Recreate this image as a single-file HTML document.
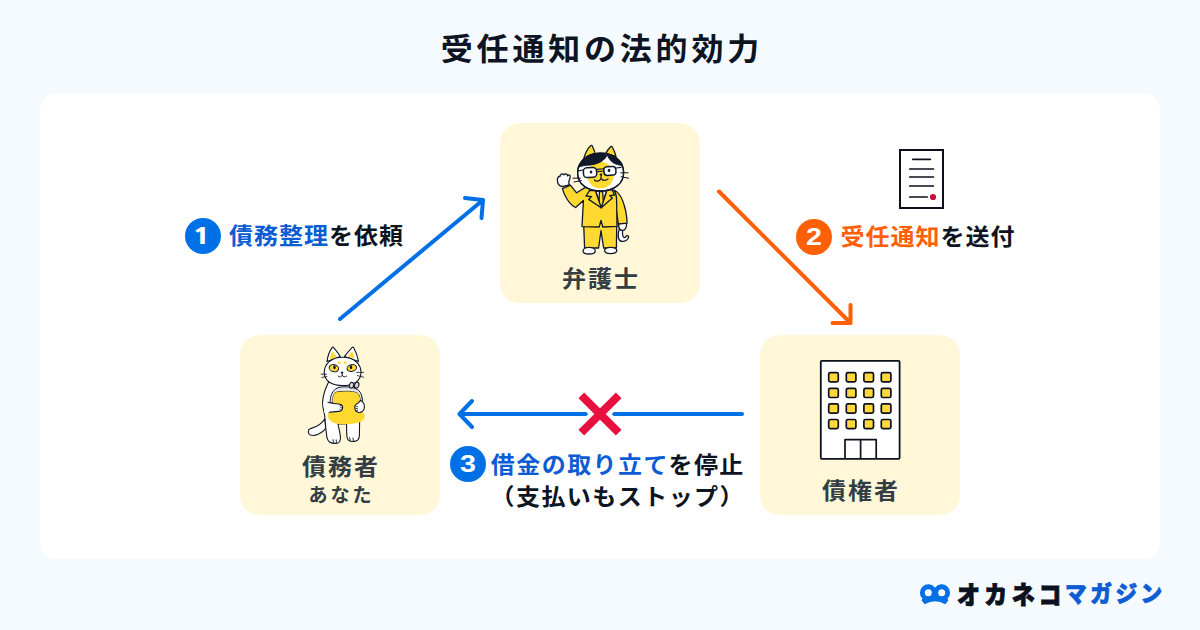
<!DOCTYPE html>
<html lang="ja">
<head>
<meta charset="utf-8">
<title>受任通知の法的効力</title>
<style>
*{margin:0;padding:0;box-sizing:border-box}
html,body{width:1200px;height:630px;overflow:hidden;background:#f5faff}
body{position:relative;font-family:"Liberation Sans","Noto Sans CJK JP",sans-serif;font-weight:700;color:#0d1422}
.abs{position:absolute;white-space:nowrap;line-height:1}
#title{left:0;width:1200px;top:32.3px;text-align:center;font-size:32px;letter-spacing:3.8px;text-indent:3.8px;line-height:34px;height:34px;transform:scaleY(.975);transform-origin:50% 93%}
#card{position:absolute;left:40px;top:94px;width:1120px;height:465px;border-radius:16px;background:#fff}
.box{position:absolute;width:200px;height:180px;border-radius:20px;background:#fff7d8}
.box .name{position:absolute;left:0;width:200px;text-align:center;font-size:24px;letter-spacing:2px;text-indent:2px;color:#333d44;line-height:24px;white-space:nowrap;transform:scaleY(.935);transform-origin:50% 95%}
.box .sub{position:absolute;left:0;width:200px;text-align:center;font-size:19px;letter-spacing:3px;text-indent:3px;color:#333d44;line-height:20px;white-space:nowrap}
.num{position:absolute;width:36px;height:36px;border-radius:50%;color:#fff;font-size:24px;line-height:36px;text-align:center;font-family:"Liberation Sans",sans-serif;font-weight:700}
.num{font-size:24.5px}
.num span{display:block;transform:scaleX(1.17)}
.num .one{font-family:"NanumGothic","Liberation Sans",sans-serif;font-weight:800;font-size:21.5px;transform:translate(-1.2px,1px) scaleX(1.5)}
.lbl{font-size:24px;letter-spacing:1px;line-height:24px;transform:scaleY(.955);transform-origin:0 95%}
.l3{letter-spacing:1.45px}
.blue{color:#0c5cd4}
.orange{color:#ff5f05}
svg{position:absolute;left:0;top:0;overflow:visible}
</style>
</head>
<body>
<div id="title" class="abs">受任通知の法的効力</div>
<div id="card"></div>

<div class="box" style="left:500px;top:123px"><div class="name" style="top:144px">弁護士</div></div>
<div class="box" style="left:240px;top:335px"><div class="name" style="top:119.6px">債務者</div><div class="sub" style="top:151.2px">あなた</div></div>
<div class="box" style="left:760px;top:335px"><div class="name" style="top:144px">債権者</div></div>

<svg id="art" width="1200" height="630" viewBox="0 0 1200 630">
  <g fill="none" stroke-width="4" stroke-linecap="round" stroke-linejoin="round">
    <g stroke="#0070e6">
      <path d="M340 319L483 200M465 198L483 200L481.5 218"/>
      <path d="M742 414H459.5M472 401L459.5 414L472 427"/>
    </g>
    <g stroke="#ff5f05">
      <path d="M719 191.5L850.5 323M850.5 305V323H832.5"/>
    </g>
  </g>
  <g fill="none" stroke-linecap="butt">
    <path d="M581.3 395.3L618.7 432.7M618.7 395.3L581.3 432.7" stroke="#fff" stroke-width="16.6"/>
    <path d="M581.3 395.3L618.7 432.7M618.7 395.3L581.3 432.7" stroke="#e8103f" stroke-width="8"/>
  </g>
<!--CAT1-->
  <!-- lawyer cat -->
  <g id="lawyer" stroke="#10182a" stroke-width="1.3" stroke-linejoin="round" stroke-linecap="round" fill="none">
    <!-- tail -->
    <path d="M619.4 229C618.4 231.6 617.8 234.6 618.2 237C618.8 240 620.6 241.6 623.2 241.4C626.2 241.2 628.4 239 628.6 236.6C628.6 235.4 626.8 235.2 626.2 236.2C625.6 237.4 624.4 237.8 623.6 237.2C622.6 236.2 622.4 233.4 622.6 230.6Z" fill="#fff"/>
    <!-- legs / pants -->
    <path d="M583.6 222L584.6 248L598.6 248L601 230.6L603.6 248L616.4 248L616.8 222Z" fill="#ffd92f"/>
    <!-- feet -->
    <path d="M583 251C583 248.6 586 247.3 589 247.3C592 247.3 595.3 248.6 595.3 251C595.3 253.2 592 254 589 254C586 254 583 253.2 583 251Z" fill="#fff"/>
    <path d="M604.6 250.6C604.6 248.4 607.6 247.3 610.6 247.3C613.6 247.3 616.8 248.4 616.8 250.6C616.8 252.8 613.6 253.6 610.6 253.6C607.6 253.6 604.6 252.8 604.6 250.6Z" fill="#fff"/>
    <!-- right hand (viewer right) -->
    <path d="M618.6 223.5C618.4 227 619.6 230.2 622.4 230.4C625.4 230.6 626.8 227 626.6 222.8Z" fill="#fff"/>
    <!-- right arm -->
    <path d="M615 190.5C620 193 623 200 625 208C626.4 214 627.2 219 627 223.2L618.4 224L616 208Z" fill="#ffd92f"/>
    <!-- jacket body with raised arm -->
    <path d="M585.4 187.4L576.6 192.8L570.4 185.2L562.4 188.6C564.4 196 569.4 204.6 575.6 207.5L583.4 200.5L582 226.6L599.2 227L601 220.5L602.8 227L617 226.4L616.6 200C616.4 195 615.6 192 614 190.2L600 188Z" fill="#ffd92f"/>
    <!-- hand raised -->
    <path d="M563 186.4C560.4 187 557.6 184.6 557.4 180.6C557.2 177.6 558.6 176 560 176.6C560 174.2 562.4 173 563.8 174.8C565 173.2 567.2 173.6 567.6 175.8C568.6 174.4 570.4 174.8 570.2 176.8C570 179 568.8 180.6 568.8 182.4C568.8 183.6 569.2 184.4 569.4 185Z" fill="#fff"/>
    <!-- shirt -->
    <path d="M595.5 191L601 205.5L607 190.5Z" fill="#fff"/>
    <!-- tie -->
    <path d="M599.4 191.6L602.6 191.4L603.4 203L601.2 207.6L599 203Z" fill="#ffd92f"/>
    <!-- lapels -->
    <path d="M589.6 190.4L586 196L591.6 196.6L588.6 199.4L601.2 207.8L595.4 190.8Z" fill="#ffd92f"/>
    <path d="M612 189.6L614.6 195L609.6 195.6L612.4 198L601.2 207.8L607 190.4Z" fill="#ffd92f"/>
    <!-- ears -->
    <path d="M583.4 160C584.6 155 587.6 148.6 590.6 145.8C591.2 145.2 592 145.4 592.4 146.2C593.6 148.6 594.8 151.6 595.4 154.6Z" fill="#ffd92f"/>
    <path d="M605.8 153.6C607 151 609 148.4 610.6 146.8C611.2 146.2 612 146.4 612.4 147.2C613.8 149.8 615.2 153 616 156.4Z" fill="#ffd92f"/>
    <!-- head -->
    <path id="lhead" d="M577.6 173.4C577.2 163 586 153.4 600 153.2C613 153 623 160.4 623.6 171.6C624.2 183.6 614 191 600.6 191C587.4 191 578 184.4 577.6 173.4Z" fill="#fff"/>
    <!-- yellow face patch -->
    <circle cx="600.5" cy="175" r="13.3" fill="#ffd92f" stroke="none"/>
    <!-- hair -->
    <path d="M579 167C580 162 583.4 158 588 155.6C593.6 152.8 601 152.6 607.2 155C605 160 600 163 594 164.4C588.4 165.6 583 165 579 167Z" fill="#10182a" stroke-width="0.8"/>
    <path d="M607.2 155C612.6 155.2 617.2 157.6 619.8 160.8C621 162.2 622 164 622.2 165.4C619 165.4 615.6 164.4 613 162.6C610.4 160.8 608.4 158 607.2 155Z" fill="#10182a" stroke-width="0.8"/>
    <!-- head outline again -->
    <path d="M577.6 173.4C577.2 163 586 153.4 600 153.2C613 153 623 160.4 623.6 171.6C624.2 183.6 614 191 600.6 191C587.4 191 578 184.4 577.6 173.4Z"/>
    <!-- glasses -->
    <path d="M583 170L578.4 170.8M616.4 168L621 167.4" stroke-width="1.2"/>
    <rect x="583.4" y="167.6" width="13.2" height="9.8" rx="3.6" fill="#fff" stroke-width="1.5" transform="rotate(-4 590 172)"/>
    <rect x="603.9" y="166.6" width="12" height="8.7" rx="3.3" fill="#fff" stroke-width="1.5" transform="rotate(-4 610 171)"/>
    <path d="M597 169.4L603.8 168.8M597.2 171.6L603.8 171" stroke-width="1.1"/>
    <!-- eyes -->
    <ellipse cx="591" cy="172" rx="1.3" ry="1.6" fill="#10182a" stroke="none"/>
    <ellipse cx="609" cy="170.4" rx="1.3" ry="1.6" fill="#10182a" stroke="none"/>
    <!-- nose & mouth -->
    <path d="M600.2 174L602 173.8L601.2 175.4Z" fill="#10182a" stroke-width="0.8"/>
    <path d="M594.4 180C596 181.8 599.6 181.6 601 178.4C601 176.8 601.1 176 601.1 175.4M601 178.4C602.6 181 606 181 608 178.8" stroke-width="1.2"/>
    <!-- whiskers -->
    <path d="M573 178.2L580.4 178.2M574 182L581.4 180.6M620.6 172.8L628 172.8M621 176.8L628.6 178.2" stroke-width="1"/>
  </g>
<!--/CAT1-->
<!--CAT2-->
  <!-- debtor cat -->
  <g id="debtor" stroke="#10182a" stroke-width="1.1" stroke-linejoin="round" stroke-linecap="round" fill="none">
    <!-- tail -->
    <path d="M325 418.4C322 424 316 427 310.6 428.6C307.6 429.6 307.4 433.6 310.4 435C315 436.6 321.6 433.6 325.6 428.6Z" fill="#fff"/>
    <!-- body + legs -->
    <path d="M328.6 382C325.6 388 322.6 396 322.6 403C322.6 408 324 411.6 324.6 415C325.4 421 325.6 430 327 437.6C327.8 442 331.6 443.6 336 443.4C339.6 443.2 340.8 440.6 340.4 436.6C340 432 338.6 427.6 338 424L346.6 424C346.6 429 346.4 434 347.2 438C347.8 441 351 441.8 354.6 441.4C358 441 359.4 438.6 359.4 435C359.4 430 359.6 426 359.6 422L362 398L352 384Z" fill="#fff"/>
    <path d="M333.4 442.6L333 439.6M336.4 442.8L336.2 439.8M350.2 440.6L349.6 437.6M353.4 441L353 438" stroke-width="0.9"/>
    <!-- purse frame -->
    <path d="M330.2 402.6C330 397 331.6 392 335.6 389C338.6 387 341.6 386.8 345 386.8C350 386.8 355 387.6 358.4 390.2C361.2 392.6 362.2 396.4 362.4 400.6L360 402C360.2 399 360 396 358.2 394C356.6 392.2 353 391.4 346 391.4C338 391.4 335.2 392 334 394.2C333 396 332.8 399 333 402.4Z" fill="#e6e6e6" stroke-width="1"/>
    <!-- purse body -->
    <path d="M333 402.4C332.8 399 333 396 334 394.2C335.2 392 338 391.4 346 391.4C353 391.4 356.6 392.2 358.2 394C360 396 360.2 399 360 402C359.6 406 360 410 362.2 412.2C364.6 414.4 365.2 416 364.4 418C363.4 420.6 361 422 357 423C351 424.6 342 424.6 336 423.4C331.6 422.4 328.6 420 327.8 417C327.2 414.6 328 413 329.4 412C331.6 410.4 333.2 407 333 402.4Z" fill="#ffd92f" stroke="none"/>
    <!-- paws -->
    <path d="M323.2 402C327 402.6 336 403.6 340 404.2C342 404.6 342.8 406 342.6 407.8C342.4 410 341 411.2 339 411.4C335.6 411.8 329 412.4 324.4 413Z" fill="#fff" stroke="none"/>
    <path d="M328 402.2C331 403.4 336 403.6 340 404.2C342 404.6 342.8 406 342.6 407.8C342.4 410 341 411.2 339 411.4C335.6 411.8 332 412 329.2 412.2"/>
    <path d="M340 405.8L341.6 405.6M340.4 407.8L342.2 407.8M340 409.8L341.4 410.2" stroke-width="0.8"/>
    <path d="M360.6 400.4C363 401.6 364.4 404 364.4 406.6C364.4 409.6 363 411.6 360.4 412.4C357.6 413 355.2 411.2 354.8 408.4C354.4 405.8 355.6 404 358 403.2Z" fill="#fff"/>
    <path d="M356 406.2L357.6 406.8M355.8 408.4L357.4 408.6M356.6 410.6L357.8 410.2" stroke-width="0.8"/>
    <!-- ears -->
    <path d="M327 361.6C327.6 356.6 329.6 351 332 347.6C332.4 347 333.2 347 333.6 347.6C336 350.4 338.6 353.6 340.2 356.4Z" fill="#fff"/>
    <path d="M329.8 359.4C330.2 356.6 331.2 353.4 332.4 351.2C334 353 335.8 355.2 337 357.2Z" fill="#ffd92f" stroke="none"/>
    <path d="M344.6 356.4C346.8 353.4 349.6 350 352 347.6C352.6 347 353.4 347 353.8 347.8C355.8 351.6 357.6 356.6 358.6 361.6Z" fill="#fff"/>
    <path d="M347.8 356.4C349.2 354.6 350.8 352.8 352.2 351.4C353.2 353.6 354 356.2 354.6 358.6Z" fill="#ffd92f" stroke="none"/>
    <!-- head -->
    <path d="M324.2 372.6C324.2 364 331.6 357.2 342.4 357.2C353.6 357.2 361 363.6 361 372.4C361 380.6 353.6 385.6 343 385.6C332 385.6 324.2 381 324.2 372.6Z" fill="#fff"/>
    <!-- clasp -->
    <ellipse cx="351.5" cy="385.3" rx="2.1" ry="2.9" fill="#dedede" transform="rotate(18 351.5 385.3)"/>
    <ellipse cx="356.7" cy="385.2" rx="2.1" ry="3" fill="#dedede" transform="rotate(18 356.7 385.2)"/>
    <!-- forehead spots -->
    <ellipse cx="339.1" cy="362.5" rx="1.5" ry="1.6" fill="#ffd92f" stroke="none"/>
    <ellipse cx="345.2" cy="362.5" rx="1.5" ry="1.6" fill="#ffd92f" stroke="none"/>
    <!-- eyes -->
    <ellipse cx="333.9" cy="368.2" rx="4.8" ry="3.5" fill="#ffd92f" stroke-width="1" transform="rotate(14 333.9 368.2)"/>
    <ellipse cx="351.8" cy="368" rx="4.8" ry="3.4" fill="#ffd92f" stroke-width="1" transform="rotate(-14 351.8 368)"/>
    <ellipse cx="334.5" cy="367.2" rx="1.2" ry="2" fill="#10182a" stroke="none"/>
    <ellipse cx="351" cy="367.2" rx="1.2" ry="2" fill="#10182a" stroke="none"/>
    <!-- nose & mouth -->
    <path d="M341.2 372L343.2 372L342.2 373.4Z" fill="#10182a" stroke-width="0.7"/>
    <path d="M338.2 376.2C339.6 377.4 341.8 377 342.2 375.2L342.2 373.4M342.2 375.2C342.8 377 345 377.4 346.6 376.2" stroke-width="0.9"/>
    <!-- whiskers -->
    <path d="M321.2 374.2L326.6 374.2M321.8 377.4L327 376.6M356.6 372.4L363.6 372.4M357.4 375.6L363.6 377.2" stroke-width="0.8"/>
  </g>
<!--/CAT2-->
<!--ICONS-->
  <!-- building -->
  <g id="building" stroke="#0c111d" stroke-width="1.8" stroke-linejoin="round" fill="#fff">
    <rect x="820.8" y="360.8" width="78.8" height="98" rx="1"/>
    <g fill="#ffd93a" stroke-width="1.7">
      <rect x="828.7" y="372.7" width="9.6" height="9.2" rx="1.6"/><rect x="846.3" y="372.7" width="9.6" height="9.2" rx="1.6"/><rect x="863.9" y="372.7" width="9.6" height="9.2" rx="1.6"/><rect x="881.3" y="372.7" width="9.6" height="9.2" rx="1.6"/>
      <rect x="828.7" y="388.3" width="9.6" height="9.2" rx="1.6"/><rect x="846.3" y="388.3" width="9.6" height="9.2" rx="1.6"/><rect x="863.9" y="388.3" width="9.6" height="9.2" rx="1.6"/><rect x="881.3" y="388.3" width="9.6" height="9.2" rx="1.6"/>
      <rect x="828.7" y="403.9" width="9.6" height="9.2" rx="1.6"/><rect x="846.3" y="403.9" width="9.6" height="9.2" rx="1.6"/><rect x="863.9" y="403.9" width="9.6" height="9.2" rx="1.6"/><rect x="881.3" y="403.9" width="9.6" height="9.2" rx="1.6"/>
      <rect x="828.7" y="419.5" width="9.6" height="9.2" rx="1.6"/><rect x="846.3" y="419.5" width="9.6" height="9.2" rx="1.6"/><rect x="863.9" y="419.5" width="9.6" height="9.2" rx="1.6"/><rect x="881.3" y="419.5" width="9.6" height="9.2" rx="1.6"/>
    </g>
    <path d="M845 458.8V439.6H876.2V458.8M860.6 439.6V458.8" fill="none" stroke-width="1.7"/>
  </g>
  <!-- document -->
  <g id="doc" stroke="#0c101c" fill="none">
    <rect x="900" y="150" width="43" height="58" fill="#fff" stroke-width="2"/>
    <path d="M912.8 159.3H930.4M909.8 169H933.4M909.8 177H933.4M909.8 186H933.4M909.8 197H927.2" stroke-width="1.7" stroke-linecap="round"/>
    <circle cx="933" cy="197" r="3.1" fill="#cc0a3c" stroke="none"/>
  </g>
  <!-- logo mark -->
  <g id="logomark">
    <path d="M935 587.63A8.4 8.4 0 1 1 947.43 598.84L948.5 600.3L945.3 604.2Q935 598.4 924.7 604.2L921.5 600.3L922.57 598.84A8.4 8.4 0 1 1 935 587.63Z" fill="#0070e6"/>
    <circle cx="928.3" cy="592.7" r="3.5" fill="#f5faff"/>
    <circle cx="941.7" cy="592.7" r="3.5" fill="#f5faff"/>
  </g>
<!--/ICONS-->
</svg>

<div class="num" style="left:185px;top:218px;background:#0070e6"><span class="one">1</span></div>
<div class="abs lbl" style="left:229px;top:224.4px"><span class="blue">債務整理</span>を依頼</div>

<div class="num" style="left:796px;top:219px;background:#ff5f05"><span>2</span></div>
<div class="abs lbl" style="left:840.5px;top:224.5px"><span class="orange">受任通知</span>を送付</div>

<div class="num" style="left:450px;top:446px;background:#0070e6"><span>3</span></div>
<div class="abs lbl l3" style="left:490.8px;top:452.7px"><span class="blue">借金の取り立て</span>を停止</div>
<div class="abs lbl l3" style="left:490.5px;top:484.6px">（支払いもストップ）</div>

<div class="abs" id="logo1" style="left:957.4px;top:580.5px;font-size:25px;line-height:28px;letter-spacing:4.7px;font-weight:900;color:#0b111e;-webkit-text-stroke:0.9px #0b111e;transform:scaleX(.92);transform-origin:0 0">オカネコ</div>
<div class="abs" id="logo2" style="left:1064.6px;top:580.5px;font-size:23px;line-height:26px;letter-spacing:3.8px;font-weight:900;color:#0c5cd4;-webkit-text-stroke:0.7px #0c5cd4;transform:scaleX(.94);transform-origin:0 0">マガジン</div>
</body>
</html>
